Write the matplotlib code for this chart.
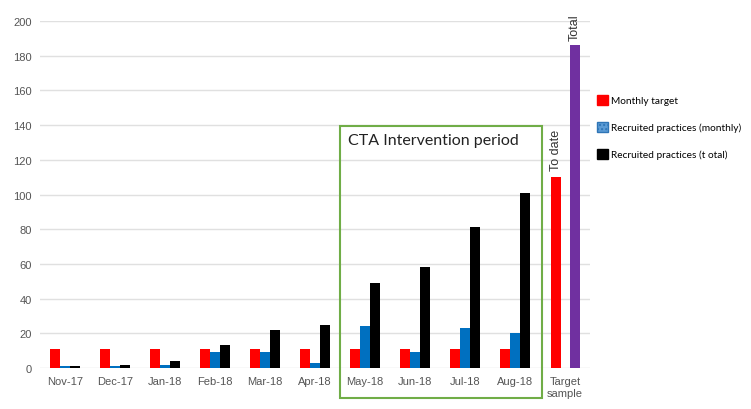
import numpy as np
import matplotlib.pyplot as plt
from matplotlib.patches import Rectangle, Patch

months = ['Nov-17', 'Dec-17', 'Jan-18', 'Feb-18', 'Mar-18', 'Apr-18',
          'May-18', 'Jun-18', 'Jul-18', 'Aug-18']
monthly_target = [11, 11, 11, 11, 11, 11, 11, 11, 11, 11]
recruited_monthly = [1, 1, 2, 9, 9, 3, 24, 9, 23, 20]
recruited_total = [1, 2, 4, 13, 22, 25, 49, 58, 81, 101]
target_to_date = 110
target_total = 186
x_labels = months + ['Target\nsample']
y_ticks = [0, 20, 40, 60, 80, 100, 120, 140, 160, 180, 200]

RED = '#ff0000'
BLUE = '#0070c0'
BLACK = '#000000'
PURPLE = '#7030a0'

fig = plt.figure(figsize=(7.51, 4.10), dpi=100)
ax = fig.add_axes([40 / 751, 1 - 369 / 410, 550 / 751, 347 / 410])

x = np.arange(len(months))
w = 0.2
ax.bar(x - w, monthly_target, w, color=RED, zorder=3)
ax.bar(x, recruited_monthly, w, color=BLUE, zorder=3)
ax.bar(x + w, recruited_total, w, color=BLACK, zorder=3)

t = len(months)
ax.bar(t - 0.18, target_to_date, w, color=RED, zorder=3)
ax.bar(t + 0.2, target_total, w, color=PURPLE, zorder=3)

ax.text(t - 0.18, target_to_date + 4, 'To date', rotation=90, ha='center', va='bottom',
        fontsize=9, family='Liberation Sans', color='#333333')
ax.text(t + 0.2, target_total + 3, 'Total', rotation=90, ha='center', va='bottom',
        fontsize=9, family='Liberation Sans', color='#333333', clip_on=False)

ax.set_xlim(-0.5, len(x_labels) - 0.5)
ax.set_ylim(0, 200)
ax.set_yticks(y_ticks)
ax.set_xticks(np.arange(len(x_labels)))
ax.set_xticklabels(x_labels, fontsize=8, family='Liberation Sans', color='#555555',
                   linespacing=1.25)
ax.set_yticklabels([str(v) for v in y_ticks], fontsize=8, family='Liberation Sans',
                   color='#555555')
ax.tick_params(length=0, pad=6)
ax.yaxis.grid(True, color='#e0e0e0', linewidth=1)
for s in ax.spines.values():
    s.set_visible(False)

# intervention period box
box = Rectangle((340 / 751, 1 - 399 / 410), 202 / 751, 272 / 410,
                transform=fig.transFigure, fill=False, edgecolor='#70ad47',
                linewidth=1.5, zorder=5)
fig.patches.append(box)
fig.text(348 / 751, 1 - 141 / 410, 'CTA Intervention period', fontsize=11.5,
         family='Lato', color='#222222', va='center')

handles = [Patch(color=RED), Patch(facecolor='#5b9bd5', hatch='....', edgecolor='#2e75b6'),
           Patch(color=BLACK)]
labels = ['Monthly target', 'Recruited practices (monthly)', 'Recruited practices (t otal)']
fig.legend(handles, labels, loc='center left', bbox_to_anchor=(588 / 751, 1 - 128 / 410),
           frameon=False, prop={'family': 'Lato', 'size': 7.3}, handlelength=1.1,
           handleheight=1.1, handletextpad=0.3, labelspacing=1.65)

plt.savefig('out.png', dpi=100)
